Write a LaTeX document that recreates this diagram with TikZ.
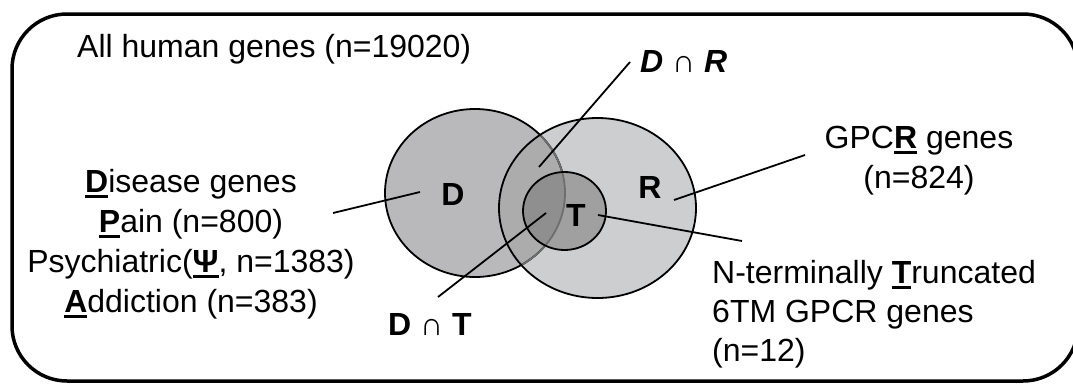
\documentclass[tikz,border=0pt]{standalone}
\usepackage{fontspec}
\setmainfont{Liberation Sans}
\newsavebox{\ulbox}
\newcommand{\myul}[1]{\sbox{\ulbox}{#1}\rlap{\rule[-6pt]{\wd\ulbox}{3.5pt}}\usebox{\ulbox}}
\definecolor{dfill}{RGB}{185,185,187}
\definecolor{rfill}{RGB}{205,206,207}
\definecolor{drfill}{RGB}{172,172,173}
\definecolor{tfill}{RGB}{160,160,160}
\definecolor{tdfill}{RGB}{143,143,143}
\definecolor{arcgray}{RGB}{110,110,110}
\begin{document}
\begin{tikzpicture}[x=1pt,y=-1pt,
  txt/.style={font=\fontsize{32}{39}\selectfont, inner sep=0pt},
  lbl/.style={font=\fontsize{32}{39}\selectfont\bfseries, inner sep=0pt},
  conn/.style={line width=1.8pt},
  outline/.style={line width=1.8pt}]
\useasboundingbox (0,0) rectangle (1073,383);
\begin{scope}
  \clip (0,0) rectangle (1073,383);
  \draw[line width=3.5pt, rounded corners=55pt] (12,14) rectangle (1078,381);
\end{scope}
% Venn fills
\def\Dshape{(475,193) ellipse [x radius=90pt, y radius=84pt]}
\def\Rshape{(597.5,208) ellipse [x radius=98.5pt, y radius=90pt]}
\def\Tshape{(564.5,211) ellipse [x radius=41.5pt, y radius=39pt]}
\fill[dfill] \Dshape;
\fill[rfill] \Rshape;
\begin{scope}\clip \Rshape; \fill[drfill] \Dshape; \end{scope}
\draw[outline] \Dshape;
\begin{scope}\clip \Rshape; \draw[outline, arcgray] \Dshape; \end{scope}
\draw[outline] \Rshape;
\fill[tfill] \Tshape;
\begin{scope}\clip \Dshape; \fill[tdfill] \Tshape; \end{scope}
\begin{scope}\clip \Tshape; \draw[outline, arcgray] \Dshape; \end{scope}
\draw[outline] \Tshape;
% circle labels
\node[lbl] (labD) at (453,194) {D};
\node[lbl] (labR) at (650,187) {R};
\node[lbl] (labT) at (576,215) {T};
% texts
\node[txt, anchor=base west] (all) at (77,57) {All human genes (n=19020)};
\node[txt, anchor=base] (dis1) at (191,192) {\myul{\textbf{D}}isease genes};
\node[txt, anchor=base] (dis2) at (191,232) {\myul{\textbf{P}}ain (n=800)};
\node[txt, anchor=base] (dis3) at (191,272) {Psychiatric(\myul{\textbf{Ψ}}, n=1383)};
\node[txt, anchor=base] (dis4) at (191,312) {\myul{\textbf{A}}ddiction (n=383)};
\node[txt, anchor=base] (gp1) at (919,148) {GPC\myul{\textbf{R}} genes};
\node[txt, anchor=base] (gp2) at (919,188) {(n=824)};
\node[txt, anchor=base west] (tr1) at (712,283) {N-terminally \myul{\textbf{T}}runcated};
\node[txt, anchor=base west] (tr2) at (712,322) {6TM GPCR genes};
\node[txt, anchor=base west] (tr3) at (712,361) {(n=12)};
\node[lbl, anchor=base west] (dr) at (640,72) {\itshape D ∩ R};
\node[lbl, anchor=base west] (dt) at (388,335) {D ∩ T};
% connector end points
\coordinate (cD1) at (333,213); \coordinate (cD2) at (420,192);
\coordinate (cDR1) at (539,167); \coordinate (cDR2) at (630,62);
\coordinate (cDT1) at (546,213); \coordinate (cDT2) at (438,297);
\coordinate (cR1) at (674,200); \coordinate (cR2) at (805,155);
\coordinate (cT1) at (598,215); \coordinate (cT2) at (742,241);
\draw[conn] (cD1) -- (cD2);
\draw[conn] (cDR1) -- (cDR2);
\draw[conn] (cDT1) -- (cDT2);
\draw[conn] (cR1) -- (cR2);
\draw[conn] (cT1) -- (cT2);
\end{tikzpicture}
\end{document}
